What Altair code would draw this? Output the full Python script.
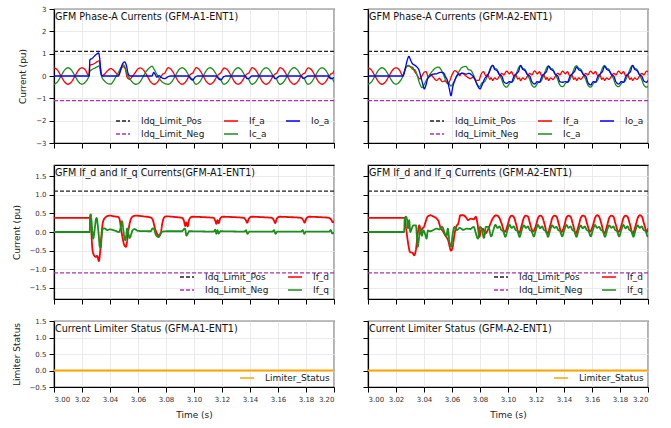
import altair as alt
import pandas as pd

# ---------------------------------------------------------------------------
# Axis settings shared by all panels
# ---------------------------------------------------------------------------
T_START = 3.00
T_END = 3.20
TIME_TICKS = [3.00, 3.02, 3.04, 3.06, 3.08, 3.10, 3.12, 3.14, 3.16, 3.18, 3.20]
PHASE_TICKS = [-3, -2, -1, 0, 1, 2, 3]
DQ_TICKS = [-1.5, -1.0, -0.5, 0.0, 0.5, 1.0, 1.5]
STATUS_TICKS = [-0.5, 0.0, 0.5, 1.0, 1.5]

IDQ_LIMIT_POS = 1.1
IDQ_LIMIT_NEG = -1.1

# ---------------------------------------------------------------------------
# GFM-A1-ENT1 phase-A currents (time s, current pu)
# ---------------------------------------------------------------------------
IF_A_A1 = [
    (3.0000, 0.37), (3.0025, 0.26), (3.0050, 0.00), (3.0075, -0.26), (3.0100, -0.37),
    (3.0125, -0.26), (3.0150, 0.00), (3.0175, 0.26), (3.0200, 0.37), (3.0225, 0.26),
    (3.0248, 0.02), (3.0256, 0.48), (3.0275, 0.52), (3.0295, 0.58), (3.0312, 0.66),
    (3.0322, 0.68), (3.0332, 0.35), (3.0342, 0.02), (3.0360, 0.08), (3.0385, 0.25),
    (3.0405, 0.33), (3.0425, 0.26), (3.0445, 0.12), (3.0462, 0.06), (3.0478, 0.30),
    (3.0495, 0.42), (3.0510, 0.30), (3.0522, -0.05), (3.0540, -0.15), (3.0560, -0.02),
    (3.0580, 0.15), (3.0600, 0.32), (3.0615, 0.36), (3.0640, 0.26), (3.0665, 0.01),
    (3.0690, -0.26), (3.0715, -0.37), (3.0740, -0.26), (3.0765, -0.01), (3.0780, 0.10),
    (3.0790, 0.12), (3.0803, 0.27), (3.0815, 0.37), (3.0840, 0.27), (3.0865, 0.01),
    (3.0890, -0.26), (3.0915, -0.37), (3.0940, -0.26), (3.0965, -0.01), (3.0980, 0.10),
    (3.0990, 0.12), (3.1003, 0.27), (3.1015, 0.37), (3.1040, 0.27), (3.1065, 0.01),
    (3.1090, -0.26), (3.1115, -0.37), (3.1140, -0.26), (3.1165, -0.01), (3.1180, 0.09),
    (3.1190, 0.13), (3.1203, 0.27), (3.1215, 0.36), (3.1240, 0.27), (3.1265, 0.01),
    (3.1290, -0.26), (3.1315, -0.37), (3.1340, -0.26), (3.1365, -0.01), (3.1380, 0.10),
    (3.1390, 0.12), (3.1403, 0.27), (3.1415, 0.37), (3.1440, 0.27), (3.1465, 0.01),
    (3.1490, -0.26), (3.1515, -0.37), (3.1540, -0.26), (3.1565, -0.01), (3.1580, 0.09),
    (3.1590, 0.12), (3.1603, 0.27), (3.1615, 0.37), (3.1640, 0.27), (3.1665, 0.01),
    (3.1690, -0.26), (3.1715, -0.37), (3.1740, -0.26), (3.1765, -0.01), (3.1780, 0.10),
    (3.1790, 0.12), (3.1803, 0.27), (3.1815, 0.36), (3.1840, 0.27), (3.1865, 0.01),
    (3.1890, -0.26), (3.1915, -0.37), (3.1940, -0.26), (3.1965, -0.01), (3.1980, 0.10),
    (3.1990, 0.12), (3.2000, 0.25),
]

IC_A_A1 = [
    (3.0000, -0.37), (3.0025, -0.26), (3.0050, 0.00), (3.0075, 0.26), (3.0100, 0.37),
    (3.0125, 0.26), (3.0150, 0.00), (3.0175, -0.26), (3.0200, -0.37), (3.0225, -0.26),
    (3.0248, -0.02), (3.0256, 0.22), (3.0270, 0.28), (3.0290, 0.35), (3.0310, 0.42),
    (3.0322, 0.45), (3.0332, 0.20), (3.0342, -0.05), (3.0360, -0.22), (3.0385, -0.34),
    (3.0405, -0.36), (3.0425, -0.22), (3.0445, 0.00), (3.0465, 0.22), (3.0480, 0.40),
    (3.0495, 0.50), (3.0508, 0.38), (3.0520, 0.12), (3.0540, -0.10), (3.0560, -0.28),
    (3.0585, -0.37), (3.0610, -0.30), (3.0635, -0.05), (3.0660, 0.22), (3.0685, 0.38),
    (3.0700, 0.44), (3.0715, 0.30), (3.0740, 0.02), (3.0765, -0.22), (3.0790, -0.33),
    (3.0815, -0.37), (3.0840, -0.27), (3.0865, -0.01), (3.0890, 0.26), (3.0915, 0.37),
    (3.0940, 0.26), (3.0965, 0.01), (3.0980, -0.10), (3.0990, -0.14), (3.1000, -0.28),
    (3.1015, -0.37), (3.1040, -0.27), (3.1065, -0.01), (3.1090, 0.26), (3.1115, 0.37),
    (3.1140, 0.26), (3.1165, 0.01), (3.1180, -0.10), (3.1190, -0.14), (3.1200, -0.28),
    (3.1215, -0.37), (3.1240, -0.27), (3.1265, -0.01), (3.1290, 0.26), (3.1315, 0.37),
    (3.1340, 0.26), (3.1365, 0.01), (3.1380, -0.10), (3.1390, -0.14), (3.1400, -0.28),
    (3.1415, -0.37), (3.1440, -0.27), (3.1465, -0.01), (3.1490, 0.26), (3.1515, 0.37),
    (3.1540, 0.26), (3.1565, 0.01), (3.1580, -0.10), (3.1590, -0.14), (3.1600, -0.28),
    (3.1615, -0.37), (3.1640, -0.27), (3.1665, -0.01), (3.1690, 0.26), (3.1715, 0.37),
    (3.1740, 0.26), (3.1765, 0.01), (3.1780, -0.10), (3.1790, -0.14), (3.1800, -0.28),
    (3.1815, -0.37), (3.1840, -0.27), (3.1865, -0.01), (3.1890, 0.26), (3.1915, 0.37),
    (3.1940, 0.26), (3.1965, 0.01), (3.1980, -0.10), (3.1990, -0.14), (3.2000, -0.28),
]

IO_A_A1 = [
    (3.0000, 0.00), (3.0252, 0.00), (3.0256, 0.72), (3.0275, 0.80), (3.0290, 0.90),
    (3.0305, 0.98), (3.0318, 1.03), (3.0328, 0.70), (3.0336, 0.10), (3.0345, 0.00),
    (3.0460, 0.00), (3.0475, 0.25), (3.0490, 0.55), (3.0505, 0.63), (3.0518, 0.45),
    (3.0530, 0.10), (3.0545, 0.00), (3.0700, 0.00), (3.0712, 0.16), (3.0722, 0.08),
    (3.0735, -0.05), (3.0750, 0.02), (3.0765, -0.06), (3.0790, -0.12), (3.0810, -0.05),
    (3.0830, 0.00), (3.0960, 0.00), (3.0975, -0.12), (3.0990, -0.18), (3.1008, -0.05),
    (3.1025, 0.00), (3.1160, 0.00), (3.1178, -0.14), (3.1192, -0.17), (3.1210, -0.04),
    (3.1225, 0.00), (3.1365, 0.00), (3.1380, -0.12), (3.1395, -0.10), (3.1412, 0.00),
    (3.1565, 0.00), (3.1580, -0.12), (3.1595, -0.08), (3.1612, 0.00), (3.1765, 0.00),
    (3.1780, -0.10), (3.1795, -0.07), (3.1812, 0.00), (3.1960, 0.00), (3.1975, -0.12),
    (3.2000, -0.07),
]

# ---------------------------------------------------------------------------
# GFM-A2-ENT1 phase-A currents
# ---------------------------------------------------------------------------
IF_A_A2 = [
    (3.0000, 0.37), (3.0025, 0.26), (3.0050, 0.00), (3.0075, -0.26), (3.0100, -0.37),
    (3.0125, -0.26), (3.0150, 0.00), (3.0175, 0.26), (3.0200, 0.37), (3.0225, 0.26),
    (3.0248, 0.02), (3.0258, 0.15), (3.0270, 0.40), (3.0285, 0.45), (3.0300, 0.42),
    (3.0318, 0.38), (3.0332, 0.22), (3.0350, 0.05), (3.0370, -0.13), (3.0385, 0.00),
    (3.0400, 0.16), (3.0415, 0.20), (3.0430, -0.05), (3.0445, 0.08), (3.0465, -0.05),
    (3.0490, -0.20), (3.0510, -0.10), (3.0530, -0.25), (3.0550, -0.22), (3.0570, -0.35),
    (3.0585, -0.20), (3.0600, 0.05), (3.0620, 0.24), (3.0640, 0.15), (3.0655, 0.02),
    (3.0670, 0.14), (3.0690, 0.05), (3.0710, -0.05), (3.0730, -0.12), (3.0750, -0.05),
    (3.0770, -0.18), (3.0790, -0.20),
    (3.0810, 0.10), (3.0825, 0.20), (3.0840, 0.02), (3.0855, 0.06), (3.0870, -0.15),
    (3.0880, -0.08), (3.0890, -0.20), (3.0905, -0.08), (3.0920, -0.15), (3.0940, 0.00),
    (3.0955, 0.12), (3.0970, 0.05), (3.0990, 0.22),
    (3.1010, 0.10), (3.1025, 0.19), (3.1040, 0.02), (3.1055, 0.06), (3.1070, -0.14),
    (3.1080, -0.08), (3.1090, -0.21), (3.1105, -0.08), (3.1120, -0.15), (3.1140, 0.00),
    (3.1155, 0.12), (3.1170, 0.05), (3.1190, 0.23),
    (3.1210, 0.10), (3.1225, 0.20), (3.1240, 0.02), (3.1255, 0.06), (3.1270, -0.15),
    (3.1280, -0.07), (3.1290, -0.20), (3.1305, -0.08), (3.1320, -0.16), (3.1340, 0.00),
    (3.1355, 0.12), (3.1370, 0.05), (3.1390, 0.22),
    (3.1410, 0.10), (3.1425, 0.20), (3.1440, 0.02), (3.1455, 0.06), (3.1470, -0.15),
    (3.1480, -0.08), (3.1490, -0.20), (3.1505, -0.08), (3.1520, -0.15), (3.1540, 0.00),
    (3.1555, 0.12), (3.1570, 0.05), (3.1590, 0.22),
    (3.1610, 0.10), (3.1625, 0.20), (3.1640, 0.02), (3.1655, 0.06), (3.1670, -0.15),
    (3.1680, -0.08), (3.1690, -0.20), (3.1705, -0.08), (3.1720, -0.15), (3.1740, 0.00),
    (3.1755, 0.12), (3.1770, 0.05), (3.1790, 0.22),
    (3.1810, 0.10), (3.1825, 0.20), (3.1840, 0.02), (3.1855, 0.06), (3.1870, -0.15),
    (3.1880, -0.08), (3.1890, -0.20), (3.1905, -0.08), (3.1920, -0.15), (3.1940, 0.00),
    (3.1955, 0.12), (3.1970, 0.05), (3.1990, 0.22), (3.2000, 0.18),
]

IC_A_A2 = [
    (3.0000, -0.37), (3.0025, -0.26), (3.0050, 0.00), (3.0075, 0.26), (3.0100, 0.37),
    (3.0125, 0.26), (3.0150, 0.00), (3.0175, -0.26), (3.0200, -0.37), (3.0225, -0.26),
    (3.0248, -0.02), (3.0260, 0.20), (3.0275, 0.40), (3.0290, 0.48), (3.0305, 0.40),
    (3.0320, 0.30), (3.0335, 0.28), (3.0350, 0.05), (3.0370, -0.35), (3.0387, -0.52),
    (3.0400, -0.40), (3.0420, -0.15), (3.0440, 0.05), (3.0460, 0.22), (3.0480, 0.35),
    (3.0504, 0.40), (3.0520, 0.30), (3.0540, 0.05), (3.0560, -0.25), (3.0575, -0.30),
    (3.0593, -0.45), (3.0610, -0.30), (3.0630, -0.05), (3.0650, 0.20), (3.0670, 0.38),
    (3.0700, 0.43), (3.0715, 0.30), (3.0735, 0.25), (3.0755, 0.02), (3.0775, -0.30),
    (3.0796, -0.48),
    (3.0815, -0.30), (3.0830, -0.27), (3.0850, -0.05), (3.0865, 0.20), (3.0880, 0.42),
    (3.0890, 0.47), (3.0905, 0.35), (3.0920, 0.30), (3.0940, 0.05), (3.0955, -0.15),
    (3.0970, -0.40), (3.0990, -0.50),
    (3.1015, -0.30), (3.1030, -0.27), (3.1050, -0.05), (3.1065, 0.20), (3.1080, 0.42),
    (3.1090, 0.46), (3.1105, 0.35), (3.1120, 0.30), (3.1140, 0.05), (3.1155, -0.15),
    (3.1170, -0.40), (3.1190, -0.50),
    (3.1215, -0.30), (3.1230, -0.27), (3.1250, -0.05), (3.1265, 0.20), (3.1280, 0.41),
    (3.1290, 0.45), (3.1305, 0.35), (3.1320, 0.30), (3.1340, 0.05), (3.1355, -0.15),
    (3.1370, -0.40), (3.1390, -0.48),
    (3.1415, -0.30), (3.1430, -0.27), (3.1450, -0.05), (3.1465, 0.20), (3.1480, 0.42),
    (3.1490, 0.46), (3.1505, 0.35), (3.1520, 0.30), (3.1540, 0.05), (3.1555, -0.15),
    (3.1570, -0.40), (3.1590, -0.50),
    (3.1615, -0.30), (3.1630, -0.27), (3.1650, -0.05), (3.1665, 0.20), (3.1680, 0.42),
    (3.1690, 0.47), (3.1705, 0.35), (3.1720, 0.30), (3.1740, 0.05), (3.1755, -0.15),
    (3.1770, -0.40), (3.1790, -0.48),
    (3.1815, -0.30), (3.1830, -0.27), (3.1850, -0.05), (3.1865, 0.20), (3.1880, 0.42),
    (3.1890, 0.46), (3.1905, 0.35), (3.1920, 0.30), (3.1940, 0.05), (3.1955, -0.15),
    (3.1970, -0.40), (3.1990, -0.50), (3.2000, -0.46),
]

IO_A_A2 = [
    (3.0000, 0.00), (3.0250, 0.00), (3.0265, 0.30), (3.0280, 0.70), (3.0292, 0.88),
    (3.0305, 0.70), (3.0318, 0.55), (3.0335, 0.48), (3.0350, 0.40), (3.0365, 0.25),
    (3.0380, -0.10), (3.0395, -0.45), (3.0402, -0.58), (3.0412, -0.45), (3.0425, -0.15),
    (3.0445, 0.00), (3.0465, 0.08), (3.0490, 0.10), (3.0515, 0.16), (3.0537, 0.15),
    (3.0555, -0.05), (3.0570, -0.25), (3.0580, -0.55), (3.0593, -0.88), (3.0605, -0.50),
    (3.0620, -0.20), (3.0640, 0.05), (3.0660, 0.10), (3.0680, 0.12), (3.0700, 0.08),
    (3.0720, 0.12), (3.0740, 0.05), (3.0760, -0.10), (3.0780, -0.40), (3.0800, -0.58),
    (3.0815, -0.40), (3.0835, -0.10), (3.0850, 0.00), (3.0865, 0.15), (3.0880, 0.40),
    (3.0891, 0.48), (3.0905, 0.30), (3.0920, 0.25), (3.0940, 0.05), (3.0955, 0.00),
    (3.0970, -0.25), (3.0990, -0.33),
    (3.1010, -0.25), (3.1025, -0.28), (3.1040, -0.05), (3.1060, 0.10), (3.1075, 0.20),
    (3.1090, 0.47), (3.1105, 0.30), (3.1120, 0.25), (3.1140, 0.05), (3.1155, 0.00),
    (3.1170, -0.25), (3.1190, -0.36),
    (3.1210, -0.25), (3.1225, -0.28), (3.1240, -0.05), (3.1260, 0.10), (3.1275, 0.20),
    (3.1290, 0.44), (3.1305, 0.30), (3.1320, 0.25), (3.1340, 0.05), (3.1355, 0.00),
    (3.1370, -0.25), (3.1390, -0.28),
    (3.1410, -0.25), (3.1425, -0.28), (3.1440, -0.05), (3.1460, 0.10), (3.1475, 0.20),
    (3.1490, 0.40), (3.1505, 0.28), (3.1520, 0.24), (3.1540, 0.05), (3.1555, 0.00),
    (3.1570, -0.28), (3.1590, -0.40),
    (3.1610, -0.25), (3.1625, -0.28), (3.1640, -0.05), (3.1660, 0.10), (3.1675, 0.20),
    (3.1690, 0.43), (3.1705, 0.30), (3.1720, 0.25), (3.1740, 0.05), (3.1755, 0.00),
    (3.1770, -0.25), (3.1790, -0.36),
    (3.1810, -0.25), (3.1825, -0.28), (3.1840, -0.05), (3.1860, 0.10), (3.1875, 0.20),
    (3.1890, 0.48), (3.1905, 0.30), (3.1920, 0.25), (3.1940, 0.05), (3.1955, 0.00),
    (3.1970, -0.22), (3.1990, -0.28), (3.2000, -0.20),
]

# ---------------------------------------------------------------------------
# dq-frame filter currents
# ---------------------------------------------------------------------------
IF_D_A1 = [
    (3.0000, 0.38), (3.0258, 0.38), (3.0266, 0.05), (3.0274, -0.45), (3.0285, -0.62),
    (3.0298, -0.67), (3.0308, -0.64), (3.0321, -0.78), (3.0328, -0.60), (3.0335, -0.27),
    (3.0342, 0.05), (3.0352, 0.30), (3.0370, 0.40), (3.0395, 0.44), (3.0430, 0.42),
    (3.0460, 0.40), (3.0470, 0.32), (3.0478, 0.10), (3.0487, -0.10), (3.0500, -0.33),
    (3.0514, -0.40), (3.0522, -0.25), (3.0532, 0.05), (3.0545, 0.30), (3.0560, 0.41),
    (3.0580, 0.44), (3.0640, 0.42), (3.0690, 0.39), (3.0705, 0.33), (3.0718, 0.15),
    (3.0735, -0.04), (3.0752, -0.10), (3.0762, -0.05), (3.0772, 0.20), (3.0785, 0.38),
    (3.0800, 0.42), (3.0870, 0.40), (3.0915, 0.38), (3.0928, 0.30), (3.0938, 0.16),
    (3.0946, 0.26), (3.0955, 0.15), (3.0965, 0.33), (3.0985, 0.41), (3.1060, 0.40),
    (3.1140, 0.38), (3.1152, 0.30), (3.1160, 0.22), (3.1168, 0.32), (3.1176, 0.24),
    (3.1188, 0.37), (3.1205, 0.41), (3.1280, 0.40), (3.1355, 0.38), (3.1370, 0.32),
    (3.1380, 0.25), (3.1392, 0.36), (3.1410, 0.41), (3.1480, 0.40), (3.1555, 0.38),
    (3.1570, 0.32), (3.1580, 0.24), (3.1592, 0.36), (3.1610, 0.41), (3.1680, 0.40),
    (3.1765, 0.38), (3.1780, 0.32), (3.1790, 0.25), (3.1802, 0.36), (3.1820, 0.41),
    (3.1890, 0.40), (3.1965, 0.38), (3.1980, 0.33), (3.1992, 0.26), (3.2000, 0.30),
]

IF_Q_A1 = [
    (3.0000, 0.00), (3.0255, 0.00), (3.0258, 0.45), (3.0263, 0.47), (3.0268, 0.30),
    (3.0273, 0.05), (3.0280, -0.18), (3.0290, 0.05), (3.0300, 0.35), (3.0305, 0.38),
    (3.0312, 0.20), (3.0320, -0.10), (3.0327, -0.40), (3.0334, -0.42), (3.0340, -0.15),
    (3.0348, 0.08), (3.0360, 0.10), (3.0380, 0.05), (3.0400, 0.07), (3.0440, 0.03),
    (3.0465, 0.00), (3.0475, 0.10), (3.0486, 0.29), (3.0494, 0.10), (3.0502, -0.15),
    (3.0510, -0.22), (3.0517, -0.05), (3.0523, 0.10), (3.0532, -0.05), (3.0540, -0.16),
    (3.0550, -0.08), (3.0562, 0.05), (3.0575, 0.08), (3.0600, 0.03), (3.0690, 0.02),
    (3.0705, 0.10), (3.0715, 0.08), (3.0725, -0.05), (3.0738, -0.12), (3.0748, -0.14),
    (3.0758, -0.05), (3.0770, 0.00), (3.0800, 0.02), (3.0915, 0.02), (3.0928, 0.08),
    (3.0936, 0.09), (3.0946, -0.10), (3.0955, -0.05), (3.0965, 0.02), (3.1140, 0.01),
    (3.1152, 0.06), (3.1160, -0.05), (3.1168, 0.05), (3.1176, -0.04), (3.1188, 0.02),
    (3.1360, 0.01), (3.1372, 0.05), (3.1382, -0.05), (3.1395, 0.01), (3.1560, 0.01),
    (3.1572, 0.05), (3.1582, -0.05), (3.1595, 0.01), (3.1765, 0.01), (3.1777, 0.05),
    (3.1787, -0.05), (3.1800, 0.01), (3.1965, 0.01), (3.1977, 0.05), (3.1987, -0.04),
    (3.2000, -0.01),
]

IF_D_A2 = [
    (3.0000, 0.38), (3.0262, 0.38), (3.0272, 0.10), (3.0289, -0.36), (3.0300, -0.54),
    (3.0318, -0.56), (3.0330, -0.63), (3.0342, -0.48), (3.0355, -0.05), (3.0366, 0.18),
    (3.0378, 0.03), (3.0390, 0.10), (3.0400, 0.14), (3.0412, 0.28), (3.0425, 0.41),
    (3.0445, 0.45), (3.0470, 0.41), (3.0488, 0.37), (3.0504, 0.29), (3.0520, 0.09),
    (3.0530, 0.05), (3.0550, -0.08), (3.0572, -0.22), (3.0593, -0.50), (3.0605, -0.40),
    (3.0617, -0.08), (3.0630, 0.14), (3.0645, 0.23), (3.0660, 0.45), (3.0680, 0.45),
    (3.0700, 0.39), (3.0715, 0.32), (3.0735, 0.36), (3.0755, 0.34), (3.0770, 0.41),
    (3.0782, 0.23), (3.0796, -0.13), (3.0808, 0.05), (3.0820, 0.09), (3.0838, -0.04),
    (3.0855, 0.05), (3.0870, 0.18), (3.0885, 0.32), (3.0900, 0.41), (3.0915, 0.45),
    (3.0935, 0.40), (3.0955, 0.22), (3.0976, 0.00),
    (3.0997, 0.18), (3.1012, 0.38), (3.1027, 0.44), (3.1042, 0.40), (3.1057, 0.22), (3.1078, -0.03),
    (3.1098, 0.18), (3.1113, 0.38), (3.1128, 0.44), (3.1143, 0.41), (3.1158, 0.22), (3.1179, 0.01),
    (3.1200, 0.18), (3.1215, 0.38), (3.1230, 0.44), (3.1245, 0.40), (3.1260, 0.22), (3.1281, -0.04),
    (3.1302, 0.18), (3.1317, 0.38), (3.1332, 0.44), (3.1347, 0.41), (3.1362, 0.22), (3.1382, 0.00),
    (3.1403, 0.18), (3.1418, 0.39), (3.1433, 0.44), (3.1448, 0.40), (3.1463, 0.22), (3.1484, -0.04),
    (3.1505, 0.18), (3.1520, 0.38), (3.1535, 0.44), (3.1550, 0.41), (3.1565, 0.22), (3.1586, 0.01),
    (3.1607, 0.18), (3.1622, 0.38), (3.1637, 0.45), (3.1652, 0.40), (3.1667, 0.22), (3.1688, -0.04),
    (3.1708, 0.18), (3.1723, 0.38), (3.1738, 0.44), (3.1753, 0.41), (3.1768, 0.22), (3.1789, 0.00),
    (3.1810, 0.18), (3.1825, 0.38), (3.1840, 0.44), (3.1855, 0.40), (3.1870, 0.22), (3.1891, -0.04),
    (3.1912, 0.18), (3.1927, 0.38), (3.1942, 0.45), (3.1957, 0.41), (3.1972, 0.22), (3.1993, 0.00),
    (3.2000, 0.10),
]

IF_Q_A2 = [
    (3.0000, 0.00), (3.0258, 0.00), (3.0262, 0.35), (3.0270, 0.41), (3.0278, 0.36),
    (3.0286, 0.10), (3.0294, 0.32), (3.0302, 0.00), (3.0312, 0.09), (3.0325, 0.18),
    (3.0342, 0.18), (3.0350, -0.15), (3.0355, -0.40), (3.0365, -0.14), (3.0375, 0.08),
    (3.0385, -0.10), (3.0395, 0.04), (3.0410, -0.08), (3.0418, -0.18), (3.0428, 0.04),
    (3.0445, 0.02), (3.0470, 0.06), (3.0490, 0.09), (3.0510, 0.07), (3.0530, 0.14),
    (3.0545, 0.00), (3.0560, -0.12), (3.0570, 0.09), (3.0582, -0.28), (3.0593, -0.40),
    (3.0605, -0.05), (3.0618, 0.14), (3.0635, 0.05), (3.0655, 0.11), (3.0680, 0.06),
    (3.0705, 0.09), (3.0730, 0.08), (3.0755, 0.14), (3.0768, 0.00), (3.0785, -0.18),
    (3.0800, 0.14), (3.0815, 0.05), (3.0828, -0.16), (3.0842, 0.14), (3.0860, 0.14),
    (3.0880, -0.12), (3.0895, 0.05), (3.0910, 0.19), (3.0925, 0.11), (3.0940, 0.15),
    (3.0951, 0.06), (3.0966, 0.02), (3.0981, -0.13), (3.0996, 0.05), (3.1011, 0.19), (3.1026, 0.11), (3.1041, 0.15),
    (3.1053, 0.06), (3.1068, 0.02), (3.1083, -0.13), (3.1098, 0.05), (3.1113, 0.18), (3.1128, 0.11), (3.1143, 0.15),
    (3.1154, 0.06), (3.1169, 0.02), (3.1184, -0.12), (3.1199, 0.05), (3.1214, 0.19), (3.1229, 0.10), (3.1244, 0.15),
    (3.1256, 0.06), (3.1271, 0.02), (3.1286, -0.13), (3.1301, 0.05), (3.1316, 0.18), (3.1331, 0.11), (3.1346, 0.14),
    (3.1357, 0.06), (3.1372, 0.02), (3.1387, -0.12), (3.1402, 0.05), (3.1417, 0.19), (3.1432, 0.11), (3.1447, 0.15),
    (3.1459, 0.06), (3.1474, 0.02), (3.1489, -0.13), (3.1504, 0.05), (3.1519, 0.18), (3.1534, 0.10), (3.1549, 0.15),
    (3.1561, 0.06), (3.1576, 0.02), (3.1591, -0.12), (3.1606, 0.05), (3.1621, 0.19), (3.1636, 0.11), (3.1651, 0.14),
    (3.1663, 0.06), (3.1678, 0.02), (3.1693, -0.13), (3.1708, 0.05), (3.1723, 0.18), (3.1738, 0.11), (3.1753, 0.15),
    (3.1764, 0.06), (3.1779, 0.02), (3.1794, -0.12), (3.1809, 0.05), (3.1824, 0.19), (3.1839, 0.10), (3.1854, 0.15),
    (3.1866, 0.06), (3.1881, 0.02), (3.1896, -0.13), (3.1911, 0.05), (3.1926, 0.18), (3.1941, 0.11), (3.1956, 0.15),
    (3.1968, 0.06), (3.1983, 0.02), (3.1998, -0.12), (3.2000, -0.08),
]

# Current limiter flag stays off over the whole window
LIMITER_STATUS = [(3.00, 0.0), (3.20, 0.0)]

# ---------------------------------------------------------------------------
# Styling
# ---------------------------------------------------------------------------
FONT = "DejaVu Sans"
RED = "#ff0000"
GREEN = "#1a8f1a"
BLUE = "#0000ff"
ORANGE = "#ffa500"
LIMIT_POS_COLOR = "#222222"
LIMIT_NEG_COLOR = "#b030b0"
DASHED = [4, 2]
SOLID = [1, 0]

PANEL_W = 280
TALL_H = 134
SHORT_H = 66


def points_frame(points, name):
    return pd.DataFrame(
        {"t": [p[0] for p in points], "v": [p[1] for p in points], "series": name}
    )


def limit_frames():
    return [
        points_frame([(T_START, IDQ_LIMIT_POS), (T_END, IDQ_LIMIT_POS)], "Idq_Limit_Pos"),
        points_frame([(T_START, IDQ_LIMIT_NEG), (T_END, IDQ_LIMIT_NEG)], "Idq_Limit_Neg"),
    ]


def panel(title, traces, order, colors, dashes, columns, y_domain, y_ticks,
          y_format, y_title, left, bottom, height):
    # legend entries fill column by column
    legend = alt.Legend(
        title=None, orient="bottom-right", columns=columns, symbolType="stroke",
        symbolSize=196, symbolStrokeWidth=1.5, labelFontSize=9, labelFont=FONT,
        labelColor="#222222", labelOffset=10, columnPadding=16, rowPadding=-10,
        offset=4, padding=0, labelLimit=200,
    )
    color = alt.Color("series:N", scale=alt.Scale(domain=order, range=colors), legend=legend)
    dash = alt.StrokeDash("series:N", scale=alt.Scale(domain=order, range=dashes), legend=legend)
    x = alt.X(
        "t:Q",
        scale=alt.Scale(domain=[T_START, T_END], nice=False, zero=False),
        axis=alt.Axis(values=TIME_TICKS, format=".2f", labels=bottom,
                      title="Time (s)" if bottom else None),
    )
    y = alt.Y(
        "v:Q",
        scale=alt.Scale(domain=y_domain, nice=False, zero=False),
        axis=alt.Axis(values=y_ticks, format=y_format, labels=left,
                      title=y_title if left else None),
    )
    layers = []
    for df, width in traces:
        layers.append(
            alt.Chart(df)
            .mark_line(strokeWidth=width, interpolate="monotone", clip=True)
            .encode(x=x, y=y, color=color, strokeDash=dash)
        )
    # panel caption in the upper-left corner of the plot area
    caption = (
        alt.Chart(pd.DataFrame({"caption": [title]}))
        .mark_text(align="left", baseline="top", font=FONT, fontSize=9.6, color="#111111")
        .encode(x=alt.value(1), y=alt.value(3), text="caption:N")
    )
    layers.append(caption)
    return alt.layer(*layers).properties(width=PANEL_W, height=height)


def phase_panel(unit, if_pts, ic_pts, io_pts, left):
    pos, neg = limit_frames()
    traces = [(pos, 1.3), (neg, 1.3),
              (points_frame(if_pts, "If_a"), 1.3),
              (points_frame(ic_pts, "Ic_a"), 1.3),
              (points_frame(io_pts, "Io_a"), 1.3)]
    order = ["Idq_Limit_Pos", "Idq_Limit_Neg", "If_a", "Ic_a", "Io_a"]
    colors = [LIMIT_POS_COLOR, LIMIT_NEG_COLOR, RED, GREEN, BLUE]
    dashes = [DASHED, DASHED, SOLID, SOLID, SOLID]
    return panel(f"GFM Phase-A Currents ({unit})", traces, order, colors, dashes, 3,
                 [-3, 3], PHASE_TICKS, "d", "Current (pu)", left, False, TALL_H)


def dq_panel(title, d_pts, q_pts, left):
    pos, neg = limit_frames()
    traces = [(pos, 1.3), (neg, 1.3),
              (points_frame(d_pts, "If_d"), 1.8),
              (points_frame(q_pts, "If_q"), 1.8)]
    order = ["Idq_Limit_Pos", "Idq_Limit_Neg", "If_d", "If_q"]
    colors = [LIMIT_POS_COLOR, LIMIT_NEG_COLOR, RED, GREEN]
    dashes = [DASHED, DASHED, SOLID, SOLID]
    return panel(title, traces, order, colors, dashes, 2,
                 [-1.8, 1.8], DQ_TICKS, ".1f", "Current (pu)", left, False, TALL_H)


def status_panel(unit, left):
    traces = [(points_frame(LIMITER_STATUS, "Limiter_Status"), 1.8)]
    return panel(f"Current Limiter Status ({unit})", traces, ["Limiter_Status"], [ORANGE],
                 [SOLID], 1, [-0.5, 1.5], STATUS_TICKS, ".1f", "Limiter Status",
                 left, True, SHORT_H)


panels = [
    phase_panel("GFM-A1-ENT1", IF_A_A1, IC_A_A1, IO_A_A1, True),
    phase_panel("GFM-A2-ENT1", IF_A_A2, IC_A_A2, IO_A_A2, False),
    dq_panel("GFM If_d and If_q Currents(GFM-A1-ENT1)", IF_D_A1, IF_Q_A1, True),
    dq_panel("GFM If_d and If_q Currents (GFM-A2-ENT1)", IF_D_A2, IF_Q_A2, False),
    status_panel("GFM-A1-ENT1", True),
    status_panel("GFM-A2-ENT1", False),
]

chart = (
    alt.concat(*panels, columns=2, spacing={"row": 22, "column": 34}, bounds="flush")
    .resolve_scale(color="independent", strokeDash="independent")
    .properties(padding={"left": 11, "top": 4, "right": 5, "bottom": 5}, background="white")
    .configure_view(stroke="black", strokeWidth=1.2)
    .configure_axis(
        domainColor="black", domainWidth=1.2, tickColor="black", tickWidth=1,
        tickSize=5, gridColor="#e6e6e6", gridWidth=0.8, labelFont=FONT,
        labelFontSize=7, labelColor="#333333", labelPadding=3, titleFont=FONT,
        titleFontSize=9, titleFontWeight="normal", titleColor="#222222", titlePadding=8,
    )
)

chart.save("out.html", embed_options={"renderer": "svg", "actions": False})
